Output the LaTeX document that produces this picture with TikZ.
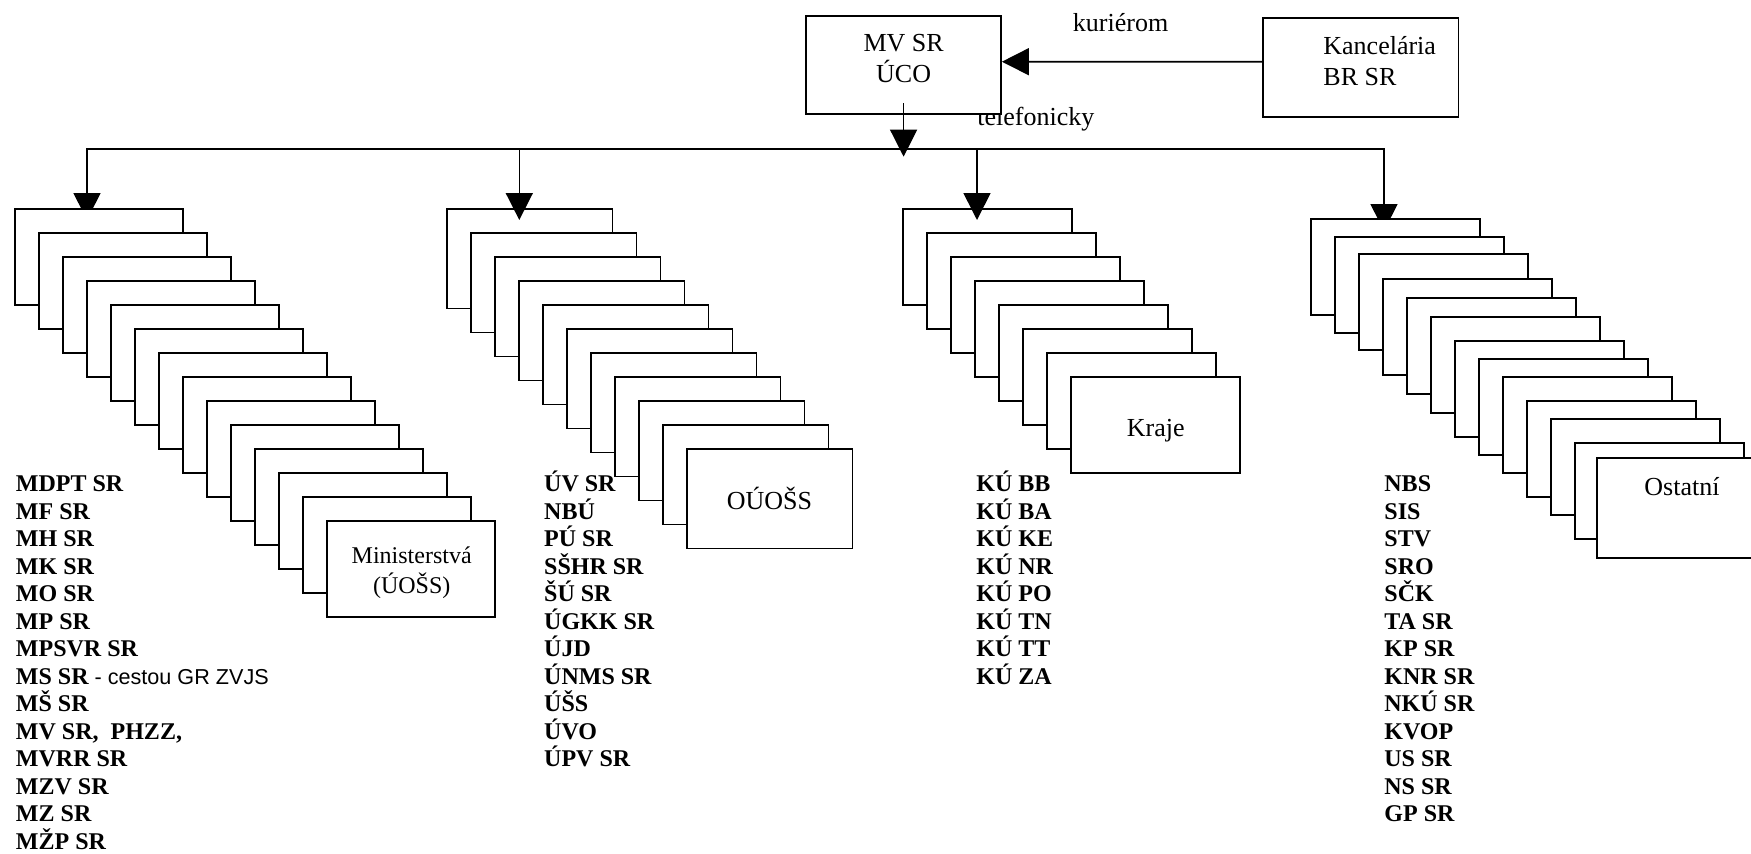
\documentclass[tikz,border=0pt]{standalone}
\usepackage{fontspec}
\setmainfont{Liberation Serif}
\newfontfamily\sansf{Liberation Sans}
\usetikzlibrary{arrows.meta}
\tikzset{
  box/.style={draw, line width=0.9pt, fill=white, inner sep=0pt},
  conn/.style={line width=0.8pt},
  tipT/.tip={Triangle[length=13.5pt,width=13.5pt]},
  arr/.style={conn, -tipT},
  biarr/.style={conn, tipT-tipT},
  thinarr/.style={line width=0.6pt, -tipT},
  lbl/.style={inner sep=0pt, anchor=base, font=\fontsize{13}{15.5}\selectfont},
  lblw/.style={inner sep=0pt, anchor=base west, font=\fontsize{13}{15.5}\selectfont},
  lbls/.style={inner sep=0pt, anchor=base, font=\fontsize{12}{14}\selectfont},
  item/.style={inner sep=0pt, anchor=base west, font=\fontsize{12}{13.8}\selectfont\bfseries},
}
\begin{document}
\begin{tikzpicture}[x=0.5pt, y=-0.5pt]
\useasboundingbox (0,0) rectangle (1751,853);

% label partly hidden behind the MV box
\node[lblw] (tel) at (977,125) {telefonicky};

% top boxes
\node[box, minimum width=97.4pt, minimum height=49.3pt] (mv) at (903.6,65) {};
\node[box, minimum width=97.75pt, minimum height=49.5pt] (kb) at (1360.75,67.2) {};
\node[lbl] (mv1) at (903.6,51.7) {MV SR};
\node[lbl] (mv2) at (903.6,82.7) {ÚCO};
\node[lblw] (kb1) at (1323,54) {Kancelária};
\node[lblw] (kb2) at (1323,85) {BR SR};
\node[lblw] (kur) at (1072.5,31) {kuriérom};

\draw[arr] ([yshift=2.75pt]kb.west) -- ([yshift=1.65pt]mv.east);

% distribution bar
\coordinate (c1) at (87,149);
\coordinate (c2) at (519.3,149);
\coordinate (c3) at (977,149);
\coordinate (c4) at (1384,149);
\coordinate (t0) at (903.6,156.7);
\coordinate (t1) at (87,220);
\coordinate (t2) at (519.3,220);
\coordinate (t3) at (977,220);
\coordinate (t4) at (1384,231);
\draw[biarr] (t1) -- (c1) -- (c4) -- (t4);

% stacks
\foreach \i in {0,...,13}
  \node[box, minimum width=84pt, minimum height=48pt] (m\i) at ({15+24*\i+84},{209+24*\i+48}) {};
\foreach \i in {0,...,10}
  \node[box, minimum width=82.75pt, minimum height=49.75pt] (o\i) at ({447+24*\i+82.75},{209+24*\i+49.75}) {};
\foreach \i in {0,...,7}
  \node[box, minimum width=84.25pt, minimum height=48pt] (k\i) at ({903.3+24*\i+84.25},{209+24*\i+48}) {};
\foreach \i/\t in {0/219,1/236.7,2/254.3,3/279,4/298.3,5/316.7,6/341,7/359.3,8/377.3,9/400.7,10/419,11/443.3}
  \node[box, minimum width=84.5pt, minimum height=48pt] (s\i) at ({1311+24*\i+84.5},{\t+48}) {};
\node[box, minimum width=84.5pt, minimum height=49.75pt] (s12) at ({1597+84.5},{458.3+49.75}) {};

\draw[arr] (c2) -- (t2);
\draw[arr] (c3) -- (t3);
\draw[thinarr] ([yshift=6.1pt]mv.south) -- (t0);

% stack captions
\node[lbls] (mt1) at (411.7,563) {Ministerstvá};
\node[lbls] (mt2) at (411.7,593) {(ÚOŠS)};
\node[lbl] (ot) at (769.5,509) {OÚOŠS};
\node[lbl] (kt) at (1155.7,436) {Kraje};
\node[lbl] (st) at (1682,495) {Ostatní};

% lists
\foreach \n [count=\i from 0] in {MDPT SR,MF SR,MH SR,MK SR,MO SR,MP SR,MPSVR SR,{MS SR{\mdseries\sansf\fontsize{10.8}{13}\selectfont{} - cestou GR ZVJS}},MŠ SR,{MV SR,\ \ PHZZ,},MVRR SR,MZV SR,MZ SR,MŽP SR}
  \node[item] (la\i) at (15.6,{491.7+27.5*\i}) {\n};
\foreach \n [count=\i from 0] in {ÚV SR,NBÚ,PÚ SR,SŠHR SR,ŠÚ SR,ÚGKK SR,ÚJD,ÚNMS SR,ÚŠS,ÚVO,ÚPV SR}
  \node[item] (lb\i) at (543.8,{491.7+27.5*\i}) {\n};
\foreach \n [count=\i from 0] in {KÚ BB,KÚ BA,KÚ KE,KÚ NR,KÚ PO,KÚ TN,KÚ TT,KÚ ZA}
  \node[item] (lc\i) at (976,{491.7+27.5*\i}) {\n};
\foreach \n [count=\i from 0] in {NBS,SIS,STV,SRO,SČK,TA SR,KP SR,KNR SR,NKÚ SR,KVOP,US SR,NS SR,GP SR}
  \node[item] (ld\i) at (1384,{491.7+27.5*\i}) {\n};
\end{tikzpicture}
\end{document}
